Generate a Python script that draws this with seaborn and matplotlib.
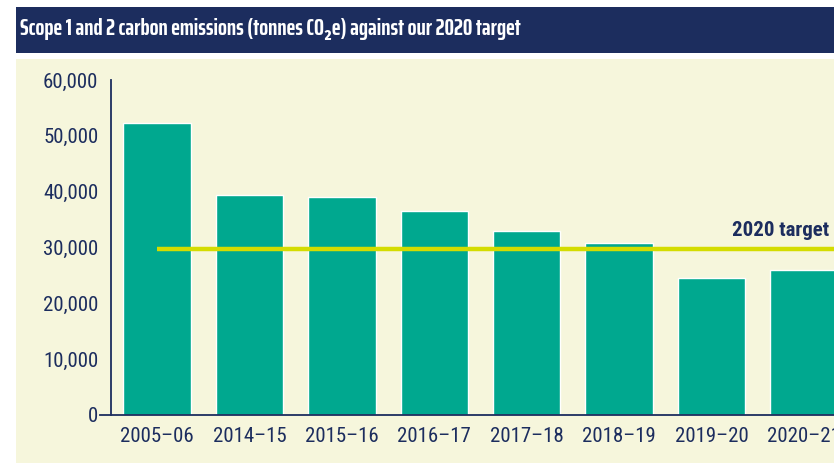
import matplotlib
matplotlib.use('Agg')
import matplotlib.pyplot as plt
import seaborn as sns
import pandas as pd
from matplotlib.patches import Rectangle

# Chart data
years = ['2005–06', '2014–15', '2015–16', '2016–17', '2017–18', '2018–19', '2019–20', '2020–21']
emissions = [52300, 39400, 39100, 36600, 33000, 30800, 24600, 26000]
target_2020 = 29800
y_ticks = [0, 10000, 20000, 30000, 40000, 50000, 60000]

# Colours
navy = '#1c2d5e'
teal = '#00a88f'
cream = '#f6f6dc'
lime = '#d4dc00'

sns.set_style('white')
plt.rcParams['font.family'] = ['Roboto Condensed', 'DejaVu Sans']
title_font = ['Saira ExtraCondensed', 'Fira Sans Extra Condensed', 'Roboto Condensed', 'DejaVu Sans']

df = pd.DataFrame({'year': years, 'emissions': emissions})

fig = plt.figure(figsize=(8.34, 4.63), dpi=100)
W, H = 834, 463

# Title band and panel background
fig.patches.append(Rectangle((16 / W, 1 - 53 / H), 1, 46 / H, transform=fig.transFigure,
                             facecolor=navy, edgecolor='none', zorder=-5))
fig.patches.append(Rectangle((16 / W, 0), 1, 1 - 59 / H, transform=fig.transFigure,
                             facecolor=cream, edgecolor='none', zorder=-5))
fig.text(20 / W, 1 - 29 / H, 'Scope 1 and 2 carbon emissions (tonnes CO₂e) against our 2020 target',
         color='white', fontsize=17, fontweight='bold', va='center', ha='left', family=title_font)

ax = fig.add_axes([111 / W, 48 / H, 739 / W, 335 / H])
ax.set_facecolor('none')

sns.barplot(data=df, x='year', y='emissions', color=teal, saturation=1, width=0.73, ax=ax)

# 2020 target line
ax.plot([0, len(years) - 0.5], [target_2020, target_2020], color=lime, lw=3.2, zorder=3,
        solid_capstyle='butt')
ax.text(6.22, target_2020 + 1500, '2020 target', color=navy, fontsize=15, fontweight='bold',
        ha='left', va='bottom')

ax.set_xlim(-0.5, 7.5)
ax.set_ylim(0, 60000)
ax.set_yticks(y_ticks)
ax.set_yticklabels([f'{v:,}' for v in y_ticks])
ax.set_xlabel('')
ax.set_ylabel('')

for side in ['top', 'right']:
    ax.spines[side].set_visible(False)
ax.spines['left'].set_color(navy)
ax.spines['left'].set_linewidth(1.3)
ax.spines['bottom'].set_color(navy)
ax.spines['bottom'].set_linewidth(1.3)
ax.spines['bottom'].set_bounds(-0.62, 7.5)

ax.tick_params(axis='y', direction='in', length=12, width=1.3, color=navy,
               labelcolor=navy, labelsize=15, pad=9)
ax.tick_params(axis='x', length=0, labelcolor=navy, labelsize=15, pad=9)

fig.savefig('out.png', dpi=100)
